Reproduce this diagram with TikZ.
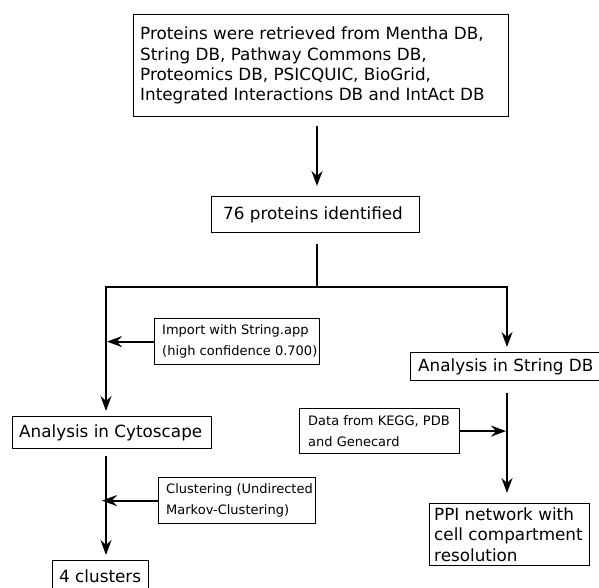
\documentclass[tikz,border=0pt]{standalone}
\usepackage{fontspec}
\setmainfont{DejaVu Sans}
\usetikzlibrary{arrows.meta,positioning}
\tikzset{
  emptybox/.style={draw=black, line width=1.2pt, anchor=north west, inner sep=0pt},
  bigtxt/.style={font=\fontsize{16.8}{20.3}\selectfont, anchor=west, align=left, inner sep=0pt},
  smalltxt/.style={font=\fontsize{13}{21}\selectfont, anchor=west, align=left, inner sep=0pt},
  conn/.style={line width=2.2pt, draw=black},
  arr/.style={conn, -{Stealth[length=15pt,width=11pt,inset=5pt]}},
}
\begin{document}
\begin{tikzpicture}[x=1pt,y=-1pt]
\clip (0,0) rectangle (599,588);
\fill[white] (0,0) rectangle (599,588);

\node[emptybox,minimum width=375pt,minimum height=102pt] (top) at (133,14) {};
\node[bigtxt] (topt) at ([xshift=7pt]top.west)
 {Proteins were retrieved from Mentha DB,\\String DB, Pathway Commons DB,\\Proteomics DB, PSICQUIC, BioGrid,\\Integrated Interactions DB and IntAct DB};

\node[emptybox,minimum width=208pt,minimum height=36pt] (p76) at (211,196) {};
\node[bigtxt] (p76t) at ([xshift=12pt]p76.west) {76 proteins identified};

\node[emptybox,minimum width=189pt,minimum height=28pt] (sdb) at (410,352) {};
\node[bigtxt] (sdbt) at ([xshift=8pt]sdb.west) {Analysis in String DB};

\node[emptybox,minimum width=199pt,minimum height=32pt] (cyto) at (12,416) {};
\node[bigtxt] (cytot) at ([xshift=7pt]cyto.west) {Analysis in Cytoscape};

\node[emptybox,minimum width=165pt,minimum height=46pt] (imp) at (154,318) {};
\node[smalltxt] (impt) at ([xshift=8pt]imp.west) {Import with String.app\\(high confidence 0.700)};

\node[emptybox,minimum width=157pt,minimum height=46pt] (clus) at (158,477) {};
\node[smalltxt] (clust) at ([xshift=8pt]clus.west) {Clustering (Undirected\\Markov-Clustering)};

\node[emptybox,minimum width=96pt,minimum height=32pt] (four) at (52,560) {};
\node[bigtxt] (fourt) at ([xshift=7pt]four.west) {4 clusters};

\node[emptybox,minimum width=160pt,minimum height=45pt] (data) at (299,408) {};
\node[smalltxt] (datat) at ([xshift=9pt]data.west) {Data from KEGG, PDB\\and Genecard};

\node[emptybox,minimum width=160pt,minimum height=62pt] (ppi) at (429,503) {};
\node[bigtxt] (ppit) at ([xshift=5pt]ppi.west) {PPI network with\\cell compartment\\resolution};

\coordinate (jc) at (317,287);
\coordinate (jl) at (106,287);
\coordinate (jr) at (507,287);
\coordinate (ct) at (106,416);
\coordinate (cb) at (106,448);
\coordinate (ft) at (106,560);
\coordinate (st) at (507,352);
\coordinate (sb) at (507,380);
\coordinate (pt) at (507,503);

\draw[arr,shorten <=9pt,shorten >=10pt] (top.south -| jc) -- (p76.north -| jc);
\draw[conn,shorten <=11pt] (p76.south -| jc) -- (jc);
\draw[conn,line cap=rect] (jl) -- (jr);
\draw[arr,shorten >=5pt] (jl) -- (ct);
\draw[arr,shorten >=5pt] (jr) -- (st);
\draw[arr,shorten >=1pt] (imp.west) -- (imp.west -| jl);
\draw[arr,shorten <=8pt,shorten >=5pt] (cb) -- (ft);
\draw[arr,shorten >=-4pt] (clus.west) -- (clus.west -| jl);
\draw[arr,shorten <=13pt,shorten >=10pt] (sb) -- (pt);
\draw[arr,shorten >=1pt] (data.east) -- (data.east -| jr);
\end{tikzpicture}
\end{document}
